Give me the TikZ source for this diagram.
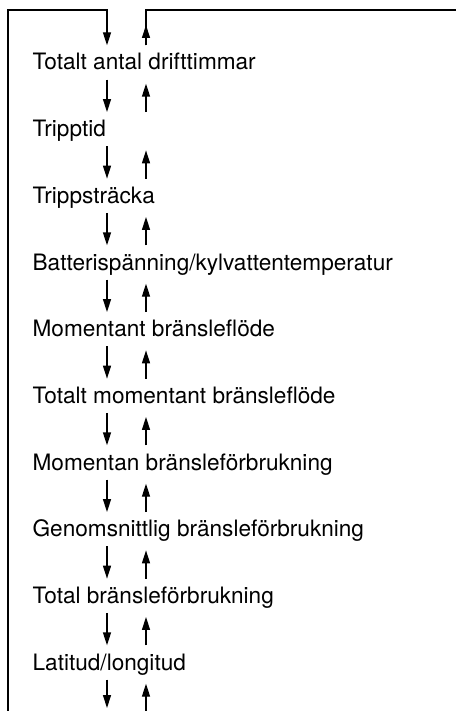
\documentclass[tikz,border=0pt]{standalone}
\usepackage{fontspec}
\setmainfont{TeX Gyre Heros}
\usetikzlibrary{arrows.meta,positioning,calc}

\begin{document}
\begin{tikzpicture}[x=0.5pt,y=-0.5pt,line width=0.65pt,
  item/.style={anchor=base west,inner xsep=0pt,inner ysep=0pt,
    text height=12pt,text depth=4.5pt,font=\fontsize{11.3}{13}\selectfont},
  arr/.style={-{Triangle[length=6.5pt,width=4pt]}},
  arrup/.style={-{Triangle[length=6.5pt,width=4pt]},shorten >=2pt}]
\useasboundingbox (0,0) rectangle (456,711);
% menu items
\node[item] (drift)     at (32,70)    {Totalt antal drifttimmar};
\node[item] (tripptid)  at (32,136.7) {Tripptid};
\node[item] (strack)    at (32,203.3) {Trippsträcka};
\node[item] (batt)      at (32,270)   {Batterispänning/kylvattentemperatur};
\node[item] (flode)     at (32,336.7) {Momentant bränsleflöde};
\node[item] (totflode)  at (32,403.3) {Totalt momentant bränsleflöde};
\node[item] (momforb)   at (32,470)   {Momentan bränsleförbrukning};
\node[item] (snittforb) at (32,536.7) {Genomsnittlig bränsleförbrukning};
\node[item] (totforb)   at (32,603.3) {Total bränsleförbrukning};
\node[item] (latlon)    at (32,670)   {Latitud/longitud};
\coordinate (dx) at (107,10);
\coordinate (ux) at (146,10);
% loop round the top
\draw[arr] (8,711) |- (dx) -- (dx |- drift.north);
\draw (ux |- drift.north) -- (ux) -- (456,10);
\draw[arr] (ux |- drift.north) -- (146,25);
% down / up between items
\draw[arr] (dx |- drift.south) -- (dx |- tripptid.north);    \draw[arrup] (ux |- tripptid.north) -- (ux |- drift.south);
\draw[arr] (dx |- tripptid.south) -- (dx |- strack.north);   \draw[arrup] (ux |- strack.north) -- (ux |- tripptid.south);
\draw[arr] (dx |- strack.south) -- (dx |- batt.north);       \draw[arrup] (ux |- batt.north) -- (ux |- strack.south);
\draw[arr] (dx |- batt.south) -- (dx |- flode.north);        \draw[arrup] (ux |- flode.north) -- (ux |- batt.south);
\draw[arr] (dx |- flode.south) -- (dx |- totflode.north);    \draw[arrup] (ux |- totflode.north) -- (ux |- flode.south);
\draw[arr] (dx |- totflode.south) -- (dx |- momforb.north);  \draw[arrup] (ux |- momforb.north) -- (ux |- totflode.south);
\draw[arr] (dx |- momforb.south) -- (dx |- snittforb.north); \draw[arrup] (ux |- snittforb.north) -- (ux |- momforb.south);
\draw[arr] (dx |- snittforb.south) -- (dx |- totforb.north); \draw[arrup] (ux |- totforb.north) -- (ux |- snittforb.south);
\draw[arr] (dx |- totforb.south) -- (dx |- latlon.north);    \draw[arrup] (ux |- latlon.north) -- (ux |- totforb.south);
% bottom, running off the page
\draw[arr] (dx |- latlon.south) -- (107,708);
\draw[arrup] (146,711) -- (ux |- latlon.south);
\end{tikzpicture}
\end{document}
